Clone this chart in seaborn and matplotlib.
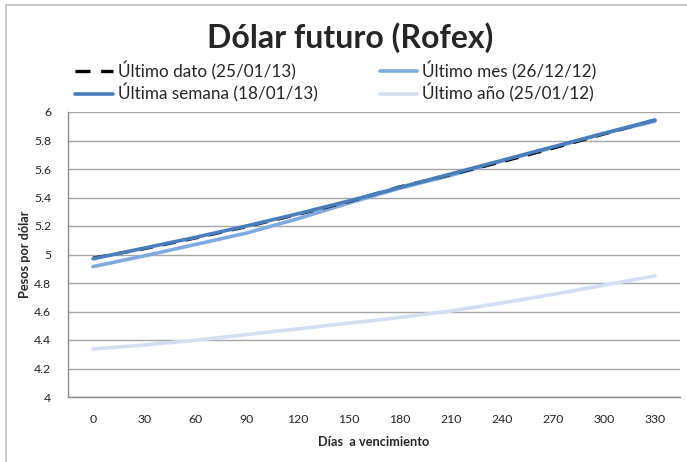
import matplotlib
matplotlib.use("Agg")
import matplotlib.pyplot as plt
import seaborn as sns
import pandas as pd
from matplotlib.lines import Line2D

dias = [0, 30, 60, 90, 120, 150, 180, 210, 240, 270, 300, 330]
ultimo_dato = [4.975, 5.04, 5.115, 5.195, 5.28, 5.37, 5.475, 5.56, 5.65, 5.745, 5.845, 5.944]
ultima_semana = [4.97, 5.045, 5.12, 5.20, 5.285, 5.375, 5.47, 5.565, 5.66, 5.755, 5.85, 5.944]
ultimo_mes = [4.915, 4.99, 5.07, 5.15, 5.25, 5.36, 5.465, 5.555, 5.655, 5.75, 5.85, 5.935]
ultimo_anio = [4.337, 4.365, 4.398, 4.438, 4.478, 4.518, 4.558, 4.603, 4.66, 4.72, 4.785, 4.85]
etiquetas = ["Último dato (25/01/13)", "Última semana (18/01/13)",
             "Último mes (26/12/12)", "Último año (25/01/12)"]

sns.set_theme(style="white")
plt.rcParams['font.family'] = ['Lato', 'DejaVu Sans']

fig = plt.figure(figsize=(6.87, 4.62), dpi=100)
W, H = 687, 462
ax = fig.add_axes([68 / W, 1 - 397 / H, (680 - 68) / W, (397 - 112) / H])

c_dato = "black"
c_sem = "#4a7ebb"
c_mes = "#7eaae0"
c_anio = "#d3dff0"
dash = (0, (4.5, 3.2))

df = pd.DataFrame({"dias": dias, "dato": ultimo_dato, "sem": ultima_semana,
                   "mes": ultimo_mes, "anio": ultimo_anio})

sns.lineplot(data=df, x="dias", y="anio", ax=ax, color=c_anio, lw=2.6, zorder=2)
sns.lineplot(data=df, x="dias", y="mes", ax=ax, color=c_mes, lw=2.6, zorder=3)
sns.lineplot(data=df, x="dias", y="dato", ax=ax, color=c_dato, lw=2.2, zorder=4,
             linestyle=dash)
sns.lineplot(data=df, x="dias", y="sem", ax=ax, color=c_sem, lw=2.6, zorder=5)

ax.set_xlim(-14.7, 344.7)
ax.set_ylim(4, 6)
ax.set_xticks(dias)
ax.set_xticklabels([str(d) for d in dias])
ax.set_yticks([4 + 0.2 * i for i in range(11)])
ax.set_yticklabels(["4", "4.2", "4.4", "4.6", "4.8", "5", "5.2", "5.4", "5.6", "5.8", "6"])
ax.tick_params(axis="both", length=0, labelsize=8.8, colors="#222222")
ax.tick_params(axis="x", pad=12)
ax.tick_params(axis="y", pad=12)
ax.grid(axis="y", color="#a6a6a6", lw=1.0)
ax.set_axisbelow(True)
for s in ["top", "right"]:
    ax.spines[s].set_visible(False)
for s in ["left", "bottom"]:
    ax.spines[s].set_color("#8c8c8c")
    ax.spines[s].set_linewidth(1.0)

ax.set_xlabel("Días  a vencimiento", fontsize=9.2, fontweight="bold", labelpad=8)
ax.set_ylabel("Pesos por dólar", fontsize=9.2, fontweight="bold", labelpad=2)

fig.text(350 / W, 1 - 38 / H, "Dólar futuro (Rofex)", ha="center", va="center",
         fontsize=23, fontweight="bold")

handles = [
    Line2D([], [], color=c_dato, lw=2.4, linestyle=dash),
    Line2D([], [], color=c_sem, lw=2.6),
    Line2D([], [], color=c_mes, lw=2.6),
    Line2D([], [], color=c_anio, lw=2.6),
]
fig.legend(handles, etiquetas, ncol=2, loc="center", bbox_to_anchor=(336 / W, 1 - 82 / H),
           frameon=False, fontsize=12.3, handlelength=2.2, handletextpad=0.3,
           columnspacing=3.6, labelspacing=0.2, borderpad=0, borderaxespad=0)

# outer chart border
fig.add_artist(Line2D([6 / W, 6 / W], [0, 1 - 5 / H], color="#bfbfbf", lw=1.2,
                      transform=fig.transFigure))
fig.add_artist(Line2D([6 / W, 1], [1 - 5 / H, 1 - 5 / H], color="#bfbfbf", lw=1.2,
                      transform=fig.transFigure))

fig.savefig("out.png", dpi=100)
